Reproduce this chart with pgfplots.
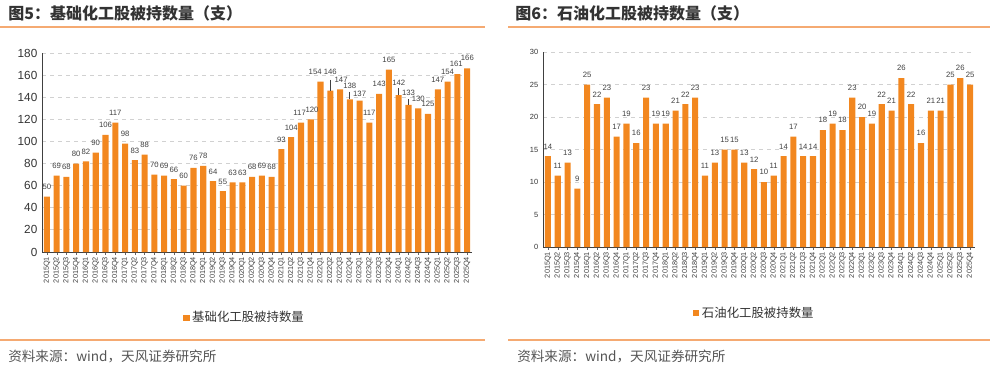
\documentclass[border=0pt]{standalone}
\usepackage{fontspec}
\setmainfont{Liberation Sans}
\newfontfamily\cjk{Noto Sans CJK SC}
\usepackage{pgfplots}
\usepackage{pgfplotstable}
\pgfplotsset{compat=1.18}
\definecolor{barorange}{HTML}{F2871F}
\definecolor{lineorange}{HTML}{F5AA72}
\definecolor{titlegray}{HTML}{333333}
\definecolor{srcgray}{HTML}{555555}
\definecolor{labgray}{HTML}{404040}

% a = 基础化工, b = 石油化工; dy = extra label lift (pt), err = leader line length (data units), dx = label x shift (pt)
\pgfplotstableread{
x lab a b dy err dx
0 2015Q1 50 14 0 0 0
1 2015Q2 69 11 0 0 0
2 2015Q3 68 13 0 0 0
3 2015Q4 80 9 0 0 0
4 2016Q1 82 25 0 0 0
5 2016Q2 90 22 0 0 0
6 2016Q3 106 23 0 0 0
7 2016Q4 117 17 0 0 0
8 2017Q1 98 19 0 0 0
9 2017Q2 83 16 0 0 0
10 2017Q3 88 23 0 0 0
11 2017Q4 70 19 0 0 0
12 2018Q1 69 19 0 0 0
13 2018Q2 66 21 0 0 0
14 2018Q3 60 22 0 0 0
15 2018Q4 76 23 0 0 0
16 2019Q1 78 11 0 0 0
17 2019Q2 64 13 0 0 0
18 2019Q3 55 15 0 0 0
19 2019Q4 63 15 0 0 0
20 2020Q1 63 13 0 0 0
21 2020Q2 68 12 0 0 0
22 2020Q3 69 10 0 0 0
23 2020Q4 68 11 0 0 0
24 2021Q1 93 14 0 0 0
25 2021Q2 104 17 0 0 0
26 2021Q3 117 14 0 0 -1
27 2021Q4 120 14 0 0 1
28 2022Q1 154 18 0 0 -4
29 2022Q2 146 19 7 10 0
30 2022Q3 147 18 0 0 0.8
31 2022Q4 138 23 3 7 0
32 2023Q1 137 20 -2 0 0
33 2023Q2 117 19 0 0 0
34 2023Q3 143 22 0 0 0
35 2023Q4 165 21 0 0 0
36 2024Q1 142 26 2.3 6 0
37 2024Q2 133 22 1.5 5 0
38 2024Q3 130 16 0 0 0
39 2024Q4 125 21 0 0 0
40 2025Q1 147 21 0 0 0
41 2025Q2 154 25 0 0 0
42 2025Q3 161 26 0 0 -0.8
43 2025Q4 166 25 1 0 0.2
}\datatable

\pgfplotsset{
  chartstyle/.style={
    scale only axis,
    ybar,
    bar width=0.62,
    xmin=-0.5, xmax=43.5,
    ymin=0,
    axis x line*=bottom,
    axis y line*=left,
    axis line style={draw=black!75, line width=0.6pt},
    xtick=data,
    xticklabels from table={\datatable}{lab},
    x tick label style={rotate=90, anchor=east, font=\fontsize{5.5}{6}\selectfont, text=labgray, inner sep=1.5pt},
    major x tick style={draw=black!60},
    xtick align=outside,
    major tick length=2pt,
    ytick style={draw=none},
    ymajorgrids,
    grid style={dashed, draw=black!18, line width=0.6pt},
    /pgf/number format/assume math mode=true,
    nodes near coords,
    nodes near coords style={font=\fontsize{5.8}{6.5}\selectfont, text=labgray, inner sep=1.5pt},
    legend style={draw=none, fill=none, font=\cjk\fontsize{9.3}{10}\selectfont, text=titlegray, legend cell align=left},
    legend image code/.code={\fill[barorange] (0pt,-2.3pt) rectangle (4.6pt,2.3pt);},
  }
}

\begin{document}
\begin{tikzpicture}
\useasboundingbox (0,0) rectangle (742.5pt,279pt);

% titles
\node[anchor=west, inner sep=0pt, text=titlegray, font=\cjk\bfseries\fontsize{12}{13}\selectfont] at (6pt,269.25pt) {图5：基础化工股被持数量（支）};
\node[anchor=west, inner sep=0pt, text=titlegray, font=\cjk\bfseries\fontsize{12}{13}\selectfont] at (386.25pt,269.25pt) {图6：石油化工股被持数量（支）};
\draw[lineorange, line width=1pt] (0pt,258.75pt) -- (363.75pt,258.75pt);
\draw[lineorange, line width=1pt] (381pt,258.75pt) -- (742.5pt,258.75pt);
\draw[lineorange, line width=1pt] (0pt,24pt) -- (363.75pt,24pt);
\draw[lineorange, line width=1pt] (381pt,24pt) -- (742.5pt,24pt);
\node[anchor=west, inner sep=0pt, text=srcgray, font=\cjk\fontsize{10.2}{11}\selectfont] at (6pt,12pt) {资料来源：wind，天风证券研究所};
\node[anchor=west, inner sep=0pt, text=srcgray, font=\cjk\fontsize{10.2}{11}\selectfont] at (387.75pt,12pt) {资料来源：wind，天风证券研究所};

\begin{axis}[chartstyle,
  at={(31.5pt,90pt)}, anchor=south west,
  width=322.5pt, height=149.25pt,
  ymax=180, ytick={0,20,...,180},
  y tick label style={font=\fontsize{8.8}{9}\selectfont, text=titlegray},
  legend style={at={(0.472,-0.33)}, anchor=center},
  visualization depends on={\thisrow{dy} \as \labdy},
  visualization depends on={\thisrow{dx} \as \labdx},
  every node near coord/.append style={yshift=\labdy pt+3.5pt, xshift=\labdx pt},
]
\addplot[fill=barorange, draw=none,
  error bars/.cd, y dir=plus, y explicit, error mark=none,
  error bar style={draw=black!75, line width=0.6pt}]
  table[x=x, y=a, y error=err] {\datatable};
\addlegendentry{基础化工股被持数量}
\end{axis}

\begin{axis}[chartstyle,
  at={(407.25pt,93.75pt)}, anchor=south west,
  width=324pt, height=146.25pt,
  ymax=30, ytick={0,5,...,30},
  y tick label style={font=\fontsize{5.6}{6}\selectfont, text=titlegray},
  legend style={at={(0.49,-0.34)}, anchor=center},
  every node near coord/.append style={yshift=3.5pt},
]
\addplot[fill=barorange, draw=none] table[x=x, y=b] {\datatable};
\addlegendentry{石油化工股被持数量}
\end{axis}
\end{tikzpicture}
\end{document}
